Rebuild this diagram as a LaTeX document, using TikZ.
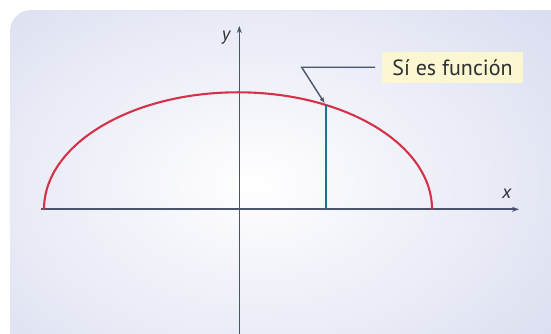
\documentclass[tikz,border=0pt]{standalone}
\usepackage{fontspec}
\setmainfont{PT Sans}
\usetikzlibrary{arrows.meta,calc}
\definecolor{lav}{RGB}{208,212,236}
\definecolor{axiscol}{RGB}{74,84,108}
\definecolor{curvecol}{RGB}{212,50,72}
\definecolor{tealcol}{RGB}{28,118,138}
\definecolor{labfill}{RGB}{250,247,210}
\definecolor{txtcol}{RGB}{45,47,50}
\tikzset{
  axisline/.style={draw=axiscol, line width=1.6pt, -{Stealth[length=7pt,width=5pt]}},
  axislabel/.style={text=txtcol, font=\fontsize{19}{19}\selectfont\itshape, inner sep=0pt},
  callout/.style={fill=labfill, text=txtcol, font=\fontsize{22}{22}\selectfont, minimum width=141pt, minimum height=31.6pt, inner sep=0pt},
  leader/.style={draw=axiscol, line width=1.4pt},
}
\begin{document}
\begin{tikzpicture}[x=1pt,y=1pt]
\useasboundingbox (0,0) rectangle (551,334);
\fill[white] (0,0) rectangle (551,334);
\begin{scope}
  \clip[rounded corners=20pt] (10.5,-20) rectangle (571,323.5);
  \fill[lav] (0,-20) rectangle (571,334);
  \shade[inner color=white, outer color=lav] (255,150) ellipse [x radius=500, y radius=340];
\end{scope}
% axes
\coordinate (xs) at (41,124.7);
\coordinate (xe) at (519,124.7);
\coordinate (ys) at (239.3,-5);
\coordinate (ye) at (239.3,308);
\draw[axisline] (xs) -- (xe);
\draw[axisline] (ys) -- (ye);
\node[axislabel] (xl) at (506.7,140) {x};
\node[axislabel] (yl) at (226,296) {y};
% curve
\coordinate (c) at (238,124.7);
\draw[curvecol, line width=2.1pt] (44,124.7) arc[start angle=180, end angle=0, x radius=194, y radius=117];
\coordinate (P) at ($(c)+(63:194 and 117)$);
\coordinate (Pb) at (P |- c);
\draw[tealcol, line width=2.3pt] (Pb) -- (P);
% callout
\node[callout] (lab) at (452.5,266.5) {Sí es función};
\coordinate (elbow) at (301.7,266.7);
\coordinate (hend) at (375,266.7);
\draw[leader, -{Latex[length=6pt,width=4.5pt]}] (hend) -- (elbow) -- ($(P)+(-1.2,1.5)$);
\end{tikzpicture}
\end{document}
